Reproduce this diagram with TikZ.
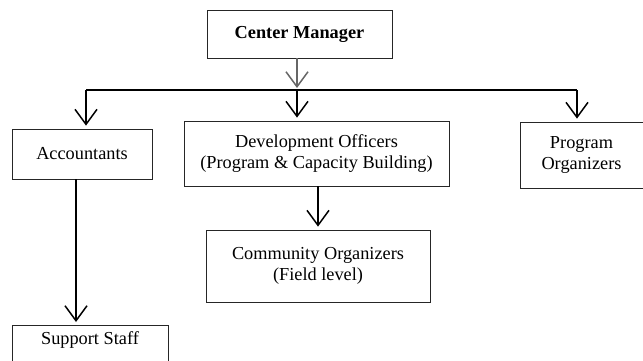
\documentclass[tikz,border=0pt]{standalone}
\usepackage{fontspec}
\setmainfont{Liberation Serif}
\usetikzlibrary{arrows.meta, positioning}

\tikzset{
  unit/.style = {draw = black!85, line width = 0.8pt, align = center, inner sep = 0pt,
                 font = \fontsize{18.3}{20.5}\selectfont},
  down/.style = {-{Straight Barb[length = 15pt, width = 22pt]}, line width = 1.5pt, shorten > = 3pt}
}

\begin{document}
\begin{tikzpicture}[x = 1pt, y = -1pt]

\useasboundingbox (0, 0) rectangle (643, 360);
\clip (0, 0) rectangle (643, 360);

\node[unit, minimum width = 185, minimum height = 48,
      font = \fontsize{18.3}{20.5}\selectfont\bfseries] (cm) at (299.5, 34) {Center Manager};
\node[unit, minimum width = 140, minimum height = 50] (acc) at (82, 154) {Accountants};
\node[unit, minimum width = 265, minimum height = 65] (dev) at (316.5, 153.5)
   {Development Officers\\(Program \& Capacity Building)};
\node[unit, minimum width = 123, minimum height = 66] (prog) at (581.5, 155) {Program\\Organizers};
\node[unit, minimum width = 224, minimum height = 72] (com) at (318, 266)
   {Community Organizers\\(Field level)};
\node[unit, anchor = north, minimum width = 156, text height = 13, text depth = 30, inner ysep = 6]
   (sup) at (90, 325) {Support Staff};

% the bus under the manager
\coordinate (busl) at (86, 90);
\coordinate (busm) at (297, 90);
\coordinate (busr) at (577, 90);
\coordinate (accx) at (76, 0);
\draw[line width = 2pt] (busl) -- (busr);

\draw[down, draw = gray!80!black, shorten > = 2pt] (cm.south -| busm) -- (busm);
\draw[down] (busl) -- (busl |- acc.north);
\draw[down] (busm) -- (busm |- dev.north);
\draw[down] (busr) -- (busr |- prog.north);
\draw[down] (dev.south -| com) -- (com.north);
\draw[down] (acc.south -| accx) -- (sup.north -| accx);

\end{tikzpicture}
\end{document}
